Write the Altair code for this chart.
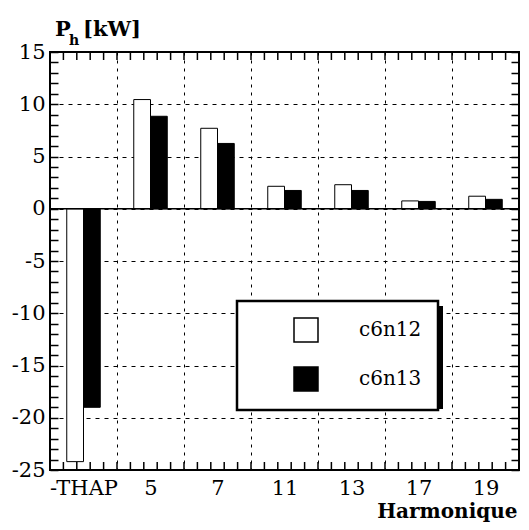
import altair as alt
import pandas as pd

cats = ["-THAP", "5", "7", "11", "13", "17", "19"]
series = ["c6n12", "c6n13"]
c6n12 = [-24.2, 10.45, 7.7, 2.15, 2.3, 0.75, 1.2]
c6n13 = [-19.0, 8.85, 6.25, 1.75, 1.75, 0.7, 0.9]
y_minor = list(range(-25, 16))
x_minor = list(range(0, 36))
title_parts = ["P", "h", "[kW]"]
x_title = "Harmonique"

FONT = "DejaVu Serif"
W, H = 469, 418

df = pd.DataFrame({
    "cat": cats * 2,
    "series": [series[0]] * len(cats) + [series[1]] * len(cats),
    "value": c6n12 + c6n13,
})
zero_df = pd.DataFrame({"v": [0]})
xmin_df = pd.DataFrame({"v": x_minor})
yscale = alt.Scale(domain=[-25, 15], nice=False, zero=False)
xminscale = alt.Scale(domain=[0, 35], nice=False, zero=False)
MAJOR = "datum.value % 5 === 0"

bars = alt.Chart(df).mark_bar(stroke="black", strokeWidth=1).encode(
    x=alt.X("cat:N", sort=cats, scale=alt.Scale(paddingInner=0, paddingOuter=0),
            axis=alt.Axis(orient="bottom", title=x_title, tickBand="extent", grid=True,
                          gridDash=[3, 5], gridColor="black", gridOpacity=1, gridWidth=1,
                          ticks=False, domain=False, labelAngle=0, labelPadding=7,
                          titleFontSize=20, titleFontWeight="bold", titleX=467, titleY=47,
                          titleAlign="right", titleBaseline="alphabetic", titleAnchor="end")),
    xOffset=alt.XOffset("series:N", sort=series, scale=alt.Scale(paddingInner=0, paddingOuter=1)),
    y=alt.Y("value:Q", stack=None, scale=yscale,
            axis=alt.Axis(orient="left", values=y_minor, offset=-8, tickSize=8, ticks=True,
                          tickColor="black", tickWidth=1.5, tickOpacity=1, domain=False, grid=True,
                          gridDash=[4, 5], gridColor="black", gridWidth=1,
                          gridOpacity={"condition": {"test": MAJOR, "value": 1}, "value": 0},
                          labelExpr=MAJOR + " ? toString(datum.value) : ''",
                          labelOverlap=False, labelPadding=5, title=None)),
    fill=alt.Fill("series:N", sort=series,
                  scale=alt.Scale(domain=series, range=["white", "black"]),
                  legend=alt.Legend(orient="none", legendX=187, legendY=249, title=None,
                                    direction="vertical", symbolType="square", symbolSize=576,
                                    symbolStrokeColor="black", symbolStrokeWidth=1.5,
                                    symbolOffset=40, labelOffset=40, labelFont=FONT,
                                    labelFontSize=20, labelColor="black", padding=16,
                                    rowPadding=19, strokeColor="black", fillColor="white",
                                    labelLimit=300)),
)

zero = alt.Chart(zero_df).mark_rule(color="black", strokeWidth=1.5).encode(
    y=alt.Y("v:Q", scale=yscale,
            axis=alt.Axis(orient="right", values=y_minor, offset=-8, tickSize=8, ticks=True,
                          tickColor="black", tickWidth=1.5, labels=False, domain=False,
                          grid=False, title=None))
)

xticks_bottom = alt.Chart(xmin_df).mark_rule(color="black", strokeWidth=1.5).encode(
    x=alt.X("v:Q", scale=xminscale, axis=None), y=alt.value(H - 8), y2=alt.value(H))

xticks_top = alt.Chart(xmin_df).mark_tick(orient="vertical", color="black", opacity=1,
                                         thickness=1.5, size=8).encode(
    x=alt.X("v:Q", scale=xminscale, axis=None), y=alt.value(4))

shadow = alt.Chart(zero_df).mark_rect(color="black").encode(
    x=alt.value(192), x2=alt.value(393), y=alt.value(254), y2=alt.value(357)
)


def title_text(s, x, y, size):
    return alt.Chart(pd.DataFrame({"t": [s]})).mark_text(
        align="left", baseline="alphabetic", font=FONT, fontSize=size,
        fontWeight="bold", color="black").encode(
        text="t:N", x=alt.value(x), y=alt.value(y))


chart = alt.layer(
    bars, zero, shadow,
    title_text(title_parts[0], 5, -16, 21),
    title_text(title_parts[1], 19, -7, 14),
    title_text(title_parts[2], 33, -16, 21),
    xticks_bottom, xticks_top,
).resolve_scale(x="independent").resolve_axis(x="independent", y="independent").properties(
    width=W, height=H, autosize="none",
    padding={"left": 42, "top": 44, "right": 2, "bottom": 52},
).configure(font=FONT).configure_view(stroke="black", strokeWidth=2).configure_axis(
    labelFont=FONT, labelFontSize=21, labelColor="black", titleFont=FONT, titleColor="black"
).configure_legend(strokeWidth=2.5)

chart.save("out.html", embed_options={"renderer": "svg", "actions": False})
